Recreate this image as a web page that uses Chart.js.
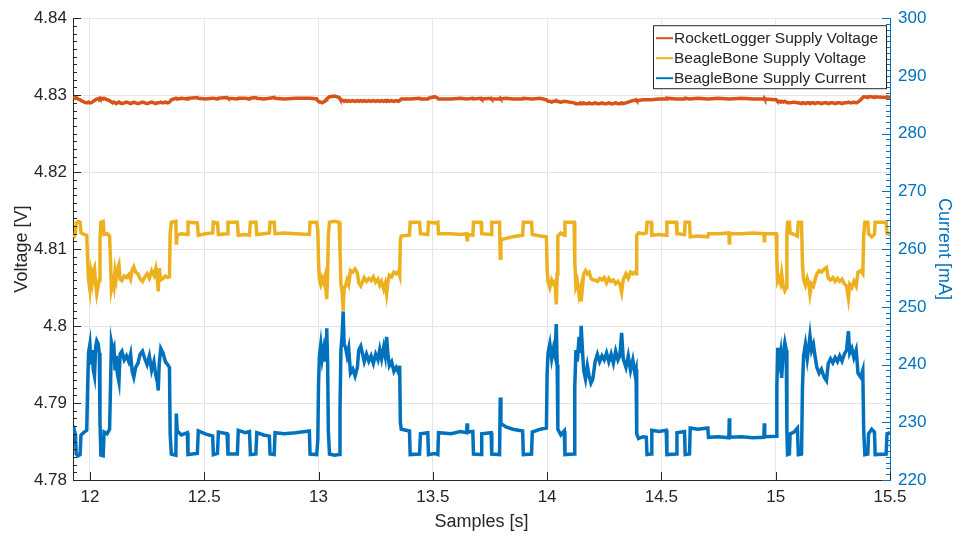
<!DOCTYPE html>
<html>
<head>
<meta charset="utf-8">
<title>Supply voltage and current</title>
<script src="https://cdn.jsdelivr.net/npm/chart.js@4.4.1/dist/chart.umd.min.js"></script>
<style>
  html, body { margin: 0; padding: 0; background: #fff; }
  #wrap { width: 957px; height: 539px; }
</style>
</head>
<body>
<div id="wrap"><canvas id="supplyChart" width="957" height="539"></canvas></div>
<script>
// time stamps [s] shared by the three traces
var sampleTime = [
  11.926, 11.932, 11.937, 11.940, 11.948, 11.957, 11.961, 11.975, 11.986, 11.990,
  11.994, 12.000, 12.005, 12.010, 12.015, 12.020, 12.025, 12.030, 12.036, 12.041,
  12.044, 12.048, 12.058, 12.062, 12.075, 12.086, 12.090, 12.094, 12.100, 12.105,
  12.110, 12.115, 12.120, 12.127, 12.132, 12.140, 12.150, 12.160, 12.170, 12.178,
  12.185, 12.192, 12.200, 12.210, 12.220, 12.230, 12.240, 12.250, 12.260, 12.270,
  12.280, 12.288, 12.295, 12.299, 12.303, 12.310, 12.320, 12.330, 12.340, 12.348,
  12.351, 12.356, 12.376, 12.378, 12.382, 12.400, 12.426, 12.429, 12.470, 12.474,
  12.505, 12.537, 12.540, 12.558, 12.562, 12.600, 12.604, 12.645, 12.649, 12.680,
  12.698, 12.702, 12.726, 12.730, 12.760, 12.785, 12.788, 12.806, 12.810, 12.850,
  12.900, 12.960, 12.963, 12.992, 12.997, 13.000, 13.004, 13.010, 13.016, 13.022,
  13.028, 13.033, 13.036, 13.040, 13.043, 13.048, 13.070, 13.090, 13.094, 13.098,
  13.103, 13.108, 13.112, 13.118, 13.125, 13.132, 13.140, 13.150, 13.160, 13.170,
  13.176, 13.185, 13.193, 13.200, 13.210, 13.220, 13.230, 13.240, 13.250, 13.260,
  13.268, 13.276, 13.285, 13.292, 13.298, 13.303, 13.310, 13.320, 13.330, 13.340,
  13.350, 13.355, 13.358, 13.362, 13.398, 13.401, 13.442, 13.446, 13.478, 13.481,
  13.508, 13.522, 13.525, 13.580, 13.620, 13.648, 13.650, 13.652, 13.675, 13.678,
  13.711, 13.714, 13.755, 13.758, 13.792, 13.795, 13.798, 13.820, 13.850, 13.893,
  13.896, 13.932, 13.935, 13.970, 13.997, 14.000, 14.004, 14.012, 14.020, 14.028,
  14.035, 14.040, 14.044, 14.047, 14.060, 14.075, 14.078, 14.118, 14.121, 14.126,
  14.132, 14.140, 14.146, 14.149, 14.154, 14.160, 14.168, 14.176, 14.184, 14.192,
  14.200, 14.210, 14.220, 14.230, 14.240, 14.250, 14.260, 14.270, 14.280, 14.290,
  14.300, 14.310, 14.318, 14.326, 14.333, 14.345, 14.355, 14.365, 14.375, 14.384,
  14.389, 14.392, 14.400, 14.420, 14.434, 14.437, 14.455, 14.458, 14.490, 14.521,
  14.524, 14.565, 14.568, 14.601, 14.604, 14.623, 14.626, 14.660, 14.703, 14.706,
  14.750, 14.795, 14.797, 14.799, 14.850, 14.900, 14.948, 14.950, 14.952, 15.002,
  15.005, 15.009, 15.015, 15.021, 15.026, 15.033, 15.040, 15.046, 15.049, 15.052,
  15.060, 15.063, 15.080, 15.095, 15.099, 15.113, 15.117, 15.122, 15.130, 15.138,
  15.145, 15.150, 15.157, 15.165, 15.172, 15.180, 15.190, 15.200, 15.212, 15.222,
  15.230, 15.240, 15.250, 15.260, 15.270, 15.280, 15.290, 15.300, 15.310, 15.318,
  15.324, 15.333, 15.342, 15.352, 15.360, 15.372, 15.381, 15.385, 15.390, 15.403,
  15.406, 15.420, 15.432, 15.435, 15.483, 15.487, 15.500
];

// BeagleBone supply current [mA]
var bbCurrent = [
  228.0, 228.6, 227.8, 224.5, 224.2, 224.4, 227.8, 228.3, 228.6, 236.0,
  242.0, 243.5, 240.0, 242.5, 239.0, 238.0, 243.0, 244.1, 243.6, 242.0,
  230.0, 224.3, 224.2, 228.3, 228.0, 228.8, 236.0, 243.8, 242.5, 243.0,
  239.0, 241.5, 238.5, 237.0, 241.8, 242.3, 240.8, 241.5, 240.5, 241.8,
  238.8, 237.8, 239.5, 240.2, 241.8, 242.3, 241.0, 240.0, 241.5, 239.0,
  240.5, 238.2, 237.0, 235.5, 240.0, 242.8, 242.0, 240.5, 240.0, 239.5,
  228.0, 224.5, 224.3, 231.5, 228.5, 227.8, 228.2, 224.4, 224.6, 228.5,
  228.0, 227.6, 224.4, 224.6, 228.3, 228.0, 224.5, 224.5, 228.6, 228.2,
  228.4, 224.4, 224.5, 228.2, 227.8, 227.6, 224.5, 224.4, 228.2, 228.0,
  228.2, 228.5, 224.5, 224.4, 227.0, 236.5, 241.5, 243.5, 241.0, 242.5,
  240.5, 244.5, 246.3, 240.0, 228.5, 224.5, 224.3, 224.4, 232.0, 242.5,
  245.0, 249.2, 243.5, 243.0, 241.5, 242.8, 238.5, 239.2, 238.0, 239.5,
  242.5, 243.2, 241.8, 240.5, 241.8, 240.6, 241.5, 240.2, 241.8, 240.8,
  242.6, 241.0, 243.0, 241.5, 244.8, 242.0, 239.8, 240.5, 238.8, 239.5,
  238.6, 239.8, 230.0, 228.8, 228.5, 224.4, 224.5, 228.0, 228.2, 224.4,
  224.6, 224.4, 228.2, 228.0, 228.4, 228.2, 229.8, 228.3, 228.4, 224.5,
  224.4, 228.0, 228.2, 224.5, 224.4, 234.3, 229.8, 229.2, 228.8, 228.5,
  224.4, 224.5, 228.3, 228.8, 229.0, 238.4, 242.0, 243.6, 241.0, 242.8,
  241.5, 247.0, 240.0, 228.8, 227.8, 228.5, 224.4, 224.5, 236.0, 242.5,
  240.5, 244.8, 242.0, 246.7, 243.0, 239.0, 237.5, 239.8, 238.0, 236.8,
  237.5, 240.5, 241.8, 240.5, 241.5, 240.8, 242.0, 240.5, 241.8, 240.2,
  242.3, 240.8, 241.5, 245.5, 241.0, 239.5, 241.5, 239.0, 240.8, 238.5,
  239.2, 228.0, 227.2, 227.5, 227.4, 224.4, 224.5, 228.6, 228.4, 228.6,
  224.4, 224.5, 228.2, 228.4, 224.4, 224.5, 229.0, 228.8, 229.0, 227.4,
  227.5, 227.3, 230.7, 227.4, 227.5, 227.3, 227.4, 229.8, 227.5, 227.6,
  236.0, 242.9, 240.5, 242.0, 237.7, 242.0, 243.8, 242.5, 228.0, 224.4,
  224.5, 228.0, 228.3, 229.0, 224.4, 224.5, 236.0, 241.5, 243.5, 241.0,
  243.2, 245.0, 242.5, 243.5, 241.5, 239.5, 238.5, 239.2, 237.8, 237.2,
  240.2, 241.0, 240.3, 241.2, 240.5, 241.5, 240.6, 241.8, 242.5, 245.8,
  242.0, 242.8, 241.2, 242.5, 238.5, 237.8, 239.0, 228.5, 224.4, 224.5,
  228.0, 228.8, 228.3, 224.4, 224.5, 228.0, 228.2
];

// BeagleBone supply voltage [V]
var bbVoltage = [
  4.8119, 4.8117, 4.8121, 4.8134, 4.8136, 4.8135, 4.8121, 4.8119, 4.8118, 4.8086,
  4.8060, 4.8047, 4.8068, 4.8058, 4.8072, 4.8076, 4.8055, 4.8042, 4.8052, 4.8060,
  4.8112, 4.8135, 4.8136, 4.8119, 4.8120, 4.8117, 4.8086, 4.8048, 4.8057, 4.8050,
  4.8071, 4.8062, 4.8074, 4.8080, 4.8061, 4.8059, 4.8065, 4.8063, 4.8067, 4.8061,
  4.8073, 4.8077, 4.8070, 4.8068, 4.8061, 4.8058, 4.8064, 4.8068, 4.8062, 4.8072,
  4.8066, 4.8075, 4.8060, 4.8045, 4.8075, 4.8060, 4.8062, 4.8065, 4.8063, 4.8064,
  4.8120, 4.8135, 4.8136, 4.8106, 4.8118, 4.8120, 4.8119, 4.8135, 4.8134, 4.8118,
  4.8120, 4.8121, 4.8135, 4.8134, 4.8119, 4.8120, 4.8135, 4.8135, 4.8118, 4.8119,
  4.8118, 4.8135, 4.8135, 4.8119, 4.8120, 4.8121, 4.8135, 4.8135, 4.8120, 4.8121,
  4.8120, 4.8119, 4.8135, 4.8135, 4.8124, 4.8085, 4.8060, 4.8054, 4.8062, 4.8057,
  4.8064, 4.8045, 4.8035, 4.8068, 4.8118, 4.8135, 4.8136, 4.8135, 4.8100, 4.8055,
  4.8045, 4.8020, 4.8050, 4.8052, 4.8060, 4.8054, 4.8072, 4.8070, 4.8074, 4.8069,
  4.8056, 4.8052, 4.8058, 4.8063, 4.8058, 4.8062, 4.8059, 4.8064, 4.8057, 4.8061,
  4.8053, 4.8058, 4.8048, 4.8055, 4.8042, 4.8056, 4.8066, 4.8064, 4.8070, 4.8068,
  4.8071, 4.8066, 4.8112, 4.8117, 4.8118, 4.8135, 4.8135, 4.8120, 4.8119, 4.8135,
  4.8134, 4.8135, 4.8120, 4.8120, 4.8119, 4.8120, 4.8112, 4.8119, 4.8118, 4.8135,
  4.8135, 4.8120, 4.8119, 4.8135, 4.8135, 4.8088, 4.8112, 4.8114, 4.8116, 4.8118,
  4.8135, 4.8135, 4.8119, 4.8117, 4.8116, 4.8075, 4.8058, 4.8050, 4.8060, 4.8055,
  4.8058, 4.8028, 4.8068, 4.8117, 4.8121, 4.8118, 4.8135, 4.8135, 4.8085, 4.8052,
  4.8058, 4.8040, 4.8048, 4.8032, 4.8048, 4.8068, 4.8072, 4.8068, 4.8070, 4.8062,
  4.8060, 4.8060, 4.8058, 4.8062, 4.8060, 4.8063, 4.8056, 4.8062, 4.8058, 4.8060,
  4.8055, 4.8058, 4.8055, 4.8044, 4.8060, 4.8068, 4.8062, 4.8070, 4.8068, 4.8070,
  4.8068, 4.8118, 4.8121, 4.8120, 4.8121, 4.8135, 4.8135, 4.8118, 4.8119, 4.8118,
  4.8135, 4.8135, 4.8120, 4.8119, 4.8135, 4.8135, 4.8116, 4.8117, 4.8116, 4.8120,
  4.8120, 4.8121, 4.8108, 4.8120, 4.8120, 4.8121, 4.8120, 4.8111, 4.8120, 4.8120,
  4.8085, 4.8058, 4.8062, 4.8056, 4.8068, 4.8052, 4.8046, 4.8050, 4.8120, 4.8135,
  4.8135, 4.8121, 4.8119, 4.8117, 4.8135, 4.8135, 4.8080, 4.8060, 4.8053, 4.8062,
  4.8055, 4.8042, 4.8055, 4.8052, 4.8060, 4.8068, 4.8072, 4.8070, 4.8074, 4.8076,
  4.8062, 4.8060, 4.8063, 4.8058, 4.8062, 4.8058, 4.8061, 4.8055, 4.8052, 4.8036,
  4.8054, 4.8050, 4.8058, 4.8052, 4.8070, 4.8072, 4.8068, 4.8118, 4.8135, 4.8135,
  4.8120, 4.8116, 4.8119, 4.8135, 4.8135, 4.8120, 4.8119
];

// RocketLogger supply voltage [V]
var rlVoltage = [
  4.8296, 4.8297, 4.8296, 4.8297, 4.8295, 4.8294, 4.8293, 4.8291, 4.8290, 4.8290,
  4.8291, 4.8290, 4.8290, 4.8291, 4.8292, 4.8293, 4.8294, 4.8295, 4.8295, 4.8296,
  4.8295, 4.8296, 4.8295, 4.8296, 4.8294, 4.8293, 4.8292, 4.8291, 4.8290, 4.8291,
  4.8290, 4.8289, 4.8290, 4.8291, 4.8290, 4.8289, 4.8290, 4.8291, 4.8290, 4.8289,
  4.8290, 4.8291, 4.8290, 4.8289, 4.8290, 4.8291, 4.8290, 4.8289, 4.8290, 4.8291,
  4.8290, 4.8289, 4.8290, 4.8290, 4.8290, 4.8291, 4.8290, 4.8291, 4.8290, 4.8291,
  4.8292, 4.8294, 4.8296, 4.8296, 4.8295, 4.8296, 4.8295, 4.8296, 4.8297, 4.8296,
  4.8295, 4.8296, 4.8296, 4.8295, 4.8296, 4.8297, 4.8296, 4.8295, 4.8296, 4.8296,
  4.8295, 4.8296, 4.8297, 4.8296, 4.8295, 4.8296, 4.8296, 4.8297, 4.8296, 4.8295,
  4.8296, 4.8296, 4.8296, 4.8295, 4.8293, 4.8292, 4.8291, 4.8291, 4.8290, 4.8291,
  4.8292, 4.8294, 4.8295, 4.8296, 4.8297, 4.8298, 4.8299, 4.8297, 4.8295, 4.8294,
  4.8293, 4.8293, 4.8292, 4.8293, 4.8292, 4.8293, 4.8292, 4.8293, 4.8292, 4.8293,
  4.8292, 4.8293, 4.8292, 4.8293, 4.8292, 4.8293, 4.8292, 4.8293, 4.8292, 4.8293,
  4.8292, 4.8293, 4.8292, 4.8293, 4.8292, 4.8293, 4.8292, 4.8293, 4.8292, 4.8293,
  4.8292, 4.8293, 4.8294, 4.8295, 4.8295, 4.8295, 4.8296, 4.8295, 4.8295, 4.8296,
  4.8298, 4.8296, 4.8295, 4.8295, 4.8296, 4.8295, 4.8295, 4.8295, 4.8296, 4.8295,
  4.8296, 4.8295, 4.8296, 4.8295, 4.8295, 4.8296, 4.8295, 4.8296, 4.8295, 4.8295,
  4.8296, 4.8295, 4.8295, 4.8296, 4.8294, 4.8293, 4.8292, 4.8292, 4.8291, 4.8292,
  4.8292, 4.8293, 4.8292, 4.8292, 4.8291, 4.8292, 4.8292, 4.8290, 4.8290, 4.8289,
  4.8289, 4.8289, 4.8290, 4.8289, 4.8289, 4.8290, 4.8289, 4.8289, 4.8290, 4.8289,
  4.8289, 4.8290, 4.8289, 4.8289, 4.8290, 4.8289, 4.8289, 4.8290, 4.8289, 4.8289,
  4.8290, 4.8289, 4.8289, 4.8290, 4.8289, 4.8290, 4.8291, 4.8292, 4.8293, 4.8293,
  4.8294, 4.8293, 4.8293, 4.8294, 4.8294, 4.8294, 4.8294, 4.8294, 4.8295, 4.8295,
  4.8296, 4.8295, 4.8295, 4.8295, 4.8296, 4.8295, 4.8295, 4.8296, 4.8295, 4.8295,
  4.8296, 4.8295, 4.8295, 4.8295, 4.8296, 4.8295, 4.8295, 4.8296, 4.8295, 4.8294,
  4.8293, 4.8292, 4.8292, 4.8291, 4.8292, 4.8291, 4.8292, 4.8291, 4.8291, 4.8290,
  4.8290, 4.8290, 4.8291, 4.8290, 4.8290, 4.8289, 4.8290, 4.8290, 4.8289, 4.8290,
  4.8290, 4.8289, 4.8290, 4.8290, 4.8289, 4.8290, 4.8290, 4.8289, 4.8290, 4.8290,
  4.8289, 4.8290, 4.8290, 4.8289, 4.8290, 4.8290, 4.8289, 4.8290, 4.8290, 4.8291,
  4.8290, 4.8290, 4.8291, 4.8290, 4.8291, 4.8294, 4.8297, 4.8298, 4.8298, 4.8297,
  4.8298, 4.8298, 4.8297, 4.8298, 4.8297, 4.8298, 4.8297
];

var timeTicks = [12, 12.5, 13, 13.5, 14, 14.5, 15, 15.5];
var voltageTicks = [4.78, 4.79, 4.8, 4.81, 4.82, 4.83, 4.84];
var currentTicks = [220, 230, 240, 250, 260, 270, 280, 290, 300];
var seriesNames = ['RocketLogger Supply Voltage', 'BeagleBone Supply Voltage', 'BeagleBone Supply Current'];

var blue = '#0072BD', orange = '#D95319', yellow = '#EDB120';
var axisGray = '#262626', gridGray = '#e5e5e5';
var fontFamily = '"Liberation Sans", Arial, Helvetica, sans-serif';

function toPoints(ys) {
  return sampleTime.map(function(t, i) { return { x: t, y: ys[i] }; });
}

function fixTicks(values) {
  return function(scale) {
    scale.ticks = values.map(function(v) { return { value: v }; });
  };
}

// tick marks point into the plot, y axes get 9 minor marks between labels
var innerTicks = {
  id: 'innerTicks',
  afterDatasetsDraw: function(chart) {
    var ctx = chart.ctx, area = chart.chartArea;
    ctx.save();
    ctx.lineWidth = 1;

    function yMarks(scale, x0, dir, color) {
      var vals = scale.ticks.map(function(t) { return t.value; });
      ctx.strokeStyle = color;
      ctx.beginPath();
      for (var i = 0; i < vals.length; i++) {
        var y = Math.round(scale.getPixelForValue(vals[i])) + 0.5;
        ctx.moveTo(x0, y);
        ctx.lineTo(x0 + dir * 8, y);
        if (i < vals.length - 1) {
          var step = (vals[i + 1] - vals[i]) / 10;
          for (var k = 1; k < 10; k++) {
            var ym = Math.round(scale.getPixelForValue(vals[i] + k * step)) + 0.5;
            ctx.moveTo(x0, ym);
            ctx.lineTo(x0 + dir * 4, ym);
          }
        }
      }
      ctx.stroke();
    }

    yMarks(chart.scales.y, area.left, 1, axisGray);
    yMarks(chart.scales.y1, area.right, -1, blue);

    var xs = chart.scales.x;
    ctx.strokeStyle = axisGray;
    ctx.beginPath();
    xs.ticks.forEach(function(t) {
      var x = Math.round(xs.getPixelForValue(t.value)) + 0.5;
      ctx.moveTo(x, area.bottom);
      ctx.lineTo(x, area.bottom - 8);
    });
    ctx.stroke();
    ctx.restore();
  }
};

// boxed legend in the top right corner of the plot
var legendBox = {
  id: 'legendBox',
  afterDraw: function(chart) {
    var ctx = chart.ctx, area = chart.chartArea;
    var w = 234, h = 64;
    var left = area.right - 3 - w, top = area.top + 7;
    ctx.save();
    ctx.fillStyle = '#fff';
    ctx.fillRect(left, top, w, h);
    ctx.strokeStyle = axisGray;
    ctx.lineWidth = 1;
    ctx.strokeRect(left + 0.5, top + 0.5, w - 1, h - 1);
    ctx.font = '15.5px ' + fontFamily;
    ctx.textBaseline = 'middle';
    chart.data.datasets.forEach(function(ds, i) {
      var y = top + 13 + i * 20;
      ctx.strokeStyle = ds.borderColor;
      ctx.lineWidth = 2;
      ctx.beginPath();
      ctx.moveTo(left + 3, y);
      ctx.lineTo(left + 20, y);
      ctx.stroke();
      ctx.fillStyle = axisGray;
      ctx.fillText(ds.label, left + 21, y + 1);
    });
    ctx.restore();
  }
};

var tickFont = { family: fontFamily, size: 17 };
var titleFont = { family: fontFamily, size: 18 };

var chart = new Chart(document.getElementById('supplyChart').getContext('2d'), {
  type: 'line',
  data: {
    datasets: [
      { label: seriesNames[0], data: toPoints(rlVoltage), yAxisID: 'y', borderColor: orange, borderWidth: 3.5, pointRadius: 0, tension: 0 },
      { label: seriesNames[1], data: toPoints(bbVoltage), yAxisID: 'y', borderColor: yellow, borderWidth: 3.5, pointRadius: 0, tension: 0 },
      { label: seriesNames[2], data: toPoints(bbCurrent), yAxisID: 'y1', borderColor: blue, borderWidth: 3.5, pointRadius: 0, tension: 0 }
    ]
  },
  options: {
    responsive: false,
    animation: false,
    devicePixelRatio: 1,
    layout: { padding: { top: 15, left: 0, right: 0, bottom: 0 } },
    plugins: { legend: { display: false }, tooltip: { enabled: false } },
    scales: {
      x: {
        type: 'linear',
        min: 11.926,
        max: 15.5,
        afterBuildTicks: fixTicks(timeTicks),
        afterFit: function(s) { s.height = 59; },
        grid: { color: gridGray, drawTicks: false },
        border: { color: axisGray },
        ticks: { color: axisGray, font: tickFont, padding: 7, maxRotation: 0, autoSkip: false,
                 callback: function(v) { return String(v); } },
        title: { display: true, text: 'Samples [s]', color: axisGray, font: titleFont, padding: { top: 0, bottom: 6 } }
      },
      y: {
        position: 'left',
        min: 4.78,
        max: 4.84,
        afterBuildTicks: fixTicks(voltageTicks),
        afterFit: function(s) { s.width = 73; },
        grid: { color: gridGray, drawTicks: false },
        border: { color: axisGray },
        ticks: { color: axisGray, font: tickFont, padding: 6, autoSkip: false,
                 callback: function(v) { return String(+v.toFixed(2)); } },
        title: { display: true, text: 'Voltage [V]', color: axisGray, font: titleFont, padding: { top: 11, bottom: 0 } }
      },
      y1: {
        position: 'right',
        min: 220,
        max: 300,
        afterBuildTicks: fixTicks(currentTicks),
        afterFit: function(s) { s.width = 67; },
        grid: { drawOnChartArea: false, drawTicks: false },
        border: { color: blue },
        ticks: { color: blue, font: tickFont, padding: 8, autoSkip: false },
        title: { display: true, text: 'Current [mA]', color: blue, font: titleFont, padding: { top: 2, bottom: 0 } }
      }
    }
  },
  plugins: [innerTicks, legendBox]
});
</script>
</body>
</html>
